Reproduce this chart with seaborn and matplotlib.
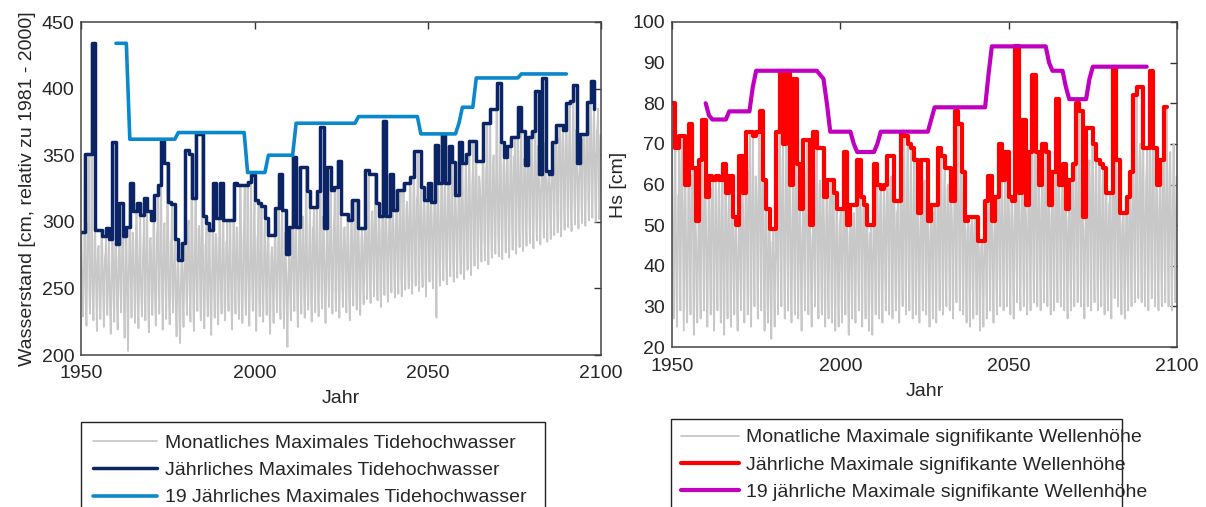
import numpy as np
import pandas as pd
import matplotlib
matplotlib.use("Agg")
import matplotlib.pyplot as plt
import seaborn as sns

# ---- data ----
# left panel: tide high water [cm], yearly maxima 1950-2098
tide_years = list(range(1950, 2099))
tide_yearly = [
    292, 351, 351, 434, 294, 294, 289, 295, 287, 360,
    283, 314, 289, 296, 329, 308, 314, 305, 318, 308,
    301, 320, 328, 361, 344, 315, 313, 287, 271, 284,
    354, 351, 318, 366, 366, 304, 299, 294, 329, 303,
    329, 301, 301, 301, 329, 328, 328, 328, 330, 335,
    316, 314, 312, 303, 290, 290, 310, 336, 309, 276,
    296, 349, 296, 341, 341, 323, 311, 311, 323, 371,
    295, 341, 324, 326, 346, 306, 306, 301, 316, 316,
    295, 295, 339, 336, 336, 314, 304, 376, 304, 336,
    309, 324, 324, 329, 329, 334, 353, 353, 326, 316,
    329, 315, 358, 329, 365, 329, 357, 345, 320, 360,
    344, 351, 361, 361, 346, 346, 374, 374, 385, 385,
    404, 360, 349, 357, 364, 364, 386, 368, 343, 364,
    368, 398, 336, 408, 338, 336, 360, 373, 373, 369,
    389, 391, 403, 344, 366, 366, 390, 406, 385,
]
# 19-year maxima 1960-2090
tide_19_years = list(range(1960, 2091))
tide_19 = (
    [434] * 4 + [362] * 14 + [367] * 20 + [337] * 6 + [350] * 8
    + [374] * 18 + [379] * 18 + [366] * 11 + [374] + [386] * 4
    + [408] * 13 + [411] * 14
)
# monthly maxima, one row per year 1950-2099 (Jan Mar May Jul Sep Nov)
tide_monthly_txt = """
292 268 241 229 255 281
351 276 236 222 262 298
289 351 248 231 259 274
434 262 239 226 251 287
294 271 244 218 263 279
282 259 234 227 248 294
289 266 247 221 257 273
277 295 238 230 252 268
287 254 229 216 246 271
360 273 243 225 261 284
283 262 235 219 249 276
314 270 246 232 258 288
279 289 231 213 244 267
296 258 227 203 253 281
329 277 249 228 262 292
286 265 240 224 251 308
314 272 236 220 257 283
305 261 242 229 248 279
291 318 251 226 263 275
308 269 233 217 255 286
288 274 245 230 250 301
320 263 238 222 259 290
296 328 247 231 266 277
361 278 241 219 254 293
299 271 250 227 262 344
315 268 237 223 249 285
287 313 244 232 257 270
287 259 230 214 246 276
271 252 226 209 241 262
284 264 239 221 250 273
354 279 247 230 261 296
301 268 242 225 256 351
318 275 236 218 252 287
366 270 249 233 264 295
297 282 240 226 258 366
304 266 235 220 247 283
284 299 243 229 255 272
294 260 231 215 249 278
329 277 246 228 263 291
288 271 238 223 254 303
329 268 244 231 260 289
301 273 239 226 256 284
286 301 247 233 262 277
301 264 236 219 251 290
329 279 250 231 266 296
294 270 243 227 258 328
328 275 238 224 253 288
302 328 246 230 264 283
330 269 241 222 257 293
335 281 249 233 262 298
316 272 236 218 255 287
292 314 244 229 260 279
312 267 239 225 253 290
303 276 248 230 264 285
290 263 233 216 249 274
281 271 241 224 256 290
310 268 245 232 259 288
336 279 240 227 263 297
309 273 247 220 257 292
276 260 229 206 244 265
296 274 243 226 258 281
349 282 250 233 266 302
296 270 237 221 255 286
341 285 248 231 263 299
304 276 241 228 259 341
323 271 246 234 265 292
311 280 239 225 256 295
297 311 250 232 268 288
323 277 243 229 261 300
371 283 249 235 266 304
295 272 240 224 257 286
341 286 252 236 269 301
324 279 245 231 262 297
303 326 250 233 267 294
346 284 243 228 264 306
306 277 251 236 270 293
296 281 246 232 263 306
301 274 240 226 259 290
316 288 253 237 271 299
298 316 247 234 265 292
295 279 244 230 260 287
295 284 250 238 266 290
339 291 257 242 272 305
336 286 252 239 268 301
308 295 259 244 274 336
314 288 254 241 270 302
304 292 249 236 267 297
376 297 260 245 276 310
304 290 255 240 271 296
336 299 262 247 278 312
309 293 257 243 273 301
324 298 263 246 279 307
310 324 258 244 275 303
329 296 261 249 281 310
315 303 266 250 284 329
334 300 259 246 280 313
353 306 268 252 286 317
320 353 263 248 282 311
326 301 267 251 287 314
316 305 260 244 281 309
329 310 270 255 289 318
315 302 264 250 283 307
358 309 271 228 290 321
329 304 266 252 285 315
365 313 273 256 292 324
329 307 268 253 288 318
357 315 275 259 294 326
345 310 270 255 291 320
320 306 274 258 289 317
360 318 278 261 297 329
344 312 272 257 293 323
351 320 280 264 299 332
361 316 276 260 296 328
338 361 283 267 302 331
346 322 281 265 300 334
330 319 285 270 304 346
374 326 287 271 306 339
345 374 284 268 303 336
385 330 290 273 309 342
350 328 288 276 307 385
404 333 292 274 311 345
360 329 289 272 308 341
349 335 294 277 313 346
357 331 291 273 310 343
364 338 296 279 315 349
340 364 293 276 312 345
386 341 298 281 317 352
368 336 295 278 314 347
343 339 299 282 318 351
364 344 301 284 320 355
368 340 297 280 316 350
398 346 303 286 322 357
336 329 300 283 319 333
408 348 305 288 324 359
338 331 302 285 321 334
336 333 304 287 323 330
360 350 307 290 326 356
373 352 309 292 328 362
358 373 306 289 325 360
369 354 311 294 330 363
389 356 313 296 332 366
391 351 310 293 329 364
403 358 315 298 334 369
344 340 312 295 331 338
366 355 316 299 335 362
350 366 314 297 333 358
390 360 318 301 337 370
406 362 320 303 339 372
385 357 317 300 336 368
372 385 319 302 338 365
"""

# right panel: significant wave height [cm], yearly maxima 1950-2097
wave_years = list(range(1950, 2098))
wave_yearly = [
    80, 69, 72, 72, 60, 75, 64, 51, 66, 76,
    57, 62, 61, 62, 61, 65, 58, 62, 52, 50,
    67, 58, 73, 73, 72, 73, 78, 61, 54, 49,
    49, 73, 88, 70, 88, 60, 86, 65, 54, 71,
    71, 50, 73, 69, 69, 57, 61, 61, 58, 54,
    54, 68, 50, 55, 55, 66, 57, 55, 50, 50,
    65, 60, 59, 60, 67, 67, 56, 56, 73, 72,
    70, 69, 66, 53, 66, 66, 51, 55, 55, 69,
    67, 64, 64, 56, 78, 75, 63, 51, 52, 52,
    52, 46, 46, 56, 62, 51, 57, 70, 61, 68,
    57, 56, 94, 58, 76, 55, 68, 87, 68, 60,
    70, 68, 55, 63, 81, 60, 65, 54, 61, 65,
    80, 78, 52, 74, 74, 70, 66, 65, 64, 58,
    58, 89, 66, 53, 53, 57, 63, 82, 84, 84,
    69, 69, 88, 69, 60, 66, 79, 79,
]
# 19-year maxima 1960-2091
wave_19_years = list(range(1960, 2092))
wave_19 = (
    [80, 77] + [76] * 5 + [78] * 7 + [84] + [88] * 19 + [87, 86, 80]
    + [73] * 7 + [70] + [68] * 6 + [70] + [73] * 15 + [76] + [79] * 16
    + [87] + [94] * 17 + [90] + [88] * 4 + [84] + [81] * 6 + [86] + [89] * 17
)
wave_monthly_txt = """
80 52 36 27 44 61
69 48 33 25 41 57
58 72 38 29 46 63
72 55 35 24 43 60
60 47 31 26 39 56
75 53 37 28 45 62
57 64 34 23 42 55
51 46 30 26 38 49
66 50 35 27 44 58
76 54 39 29 47 64
57 48 32 25 40 53
62 51 36 28 43 59
55 61 33 24 41 52
62 49 37 29 45 58
61 53 34 26 42 56
65 47 31 23 39 60
58 52 36 27 44 54
62 50 33 25 41 57
52 48 35 28 43 50
50 45 30 24 38 47
67 54 37 29 46 61
58 51 34 26 42 55
73 56 38 28 47 63
64 73 35 25 44 59
72 53 39 30 48 62
60 55 36 27 45 73
78 57 40 29 49 65
61 50 33 24 41 56
54 47 31 26 39 50
49 44 29 22 37 46
46 49 32 25 40 44
73 56 37 28 46 60
88 58 39 30 48 66
70 54 36 27 45 62
88 59 40 29 49 64
60 52 34 26 42 55
86 57 38 28 47 63
65 53 35 27 44 58
54 48 32 24 40 51
71 55 37 29 46 61
64 71 36 28 45 59
50 46 31 25 39 48
73 54 38 30 47 62
69 56 35 27 44 60
61 52 36 28 43 69
57 50 33 25 41 54
61 53 34 27 42 57
55 61 35 26 43 58
58 49 32 24 40 54
54 47 31 25 39 50
52 54 33 26 41 49
68 55 36 28 45 60
50 47 30 23 38 46
55 49 34 27 42 52
53 48 33 26 41 55
66 54 37 29 46 59
57 51 34 25 43 55
55 50 35 27 42 53
50 46 32 24 39 48
48 50 31 23 40 45
65 53 36 28 44 58
60 52 35 27 43 56
59 50 34 26 42 55
60 54 37 29 45 57
67 55 38 28 46 61
62 58 36 27 44 67
56 52 35 29 43 53
54 56 33 26 41 52
73 57 38 30 47 62
72 56 37 28 46 63
70 55 39 29 45 61
69 54 36 27 44 60
66 53 35 28 43 58
53 50 34 26 42 51
66 55 37 29 46 59
61 54 36 28 44 66
51 48 33 25 40 49
55 50 35 27 43 53
53 55 34 26 42 52
69 56 38 29 47 62
67 55 37 28 45 60
64 54 36 30 44 59
60 52 39 29 46 64
56 51 35 27 43 54
78 58 40 31 48 66
75 57 39 29 47 63
63 55 37 28 45 60
51 48 34 26 42 50
52 49 33 25 41 50
50 52 35 27 43 49
52 48 34 28 40 51
46 44 31 24 38 45
45 46 32 25 39 44
56 50 35 27 43 54
62 53 37 29 45 58
51 48 34 26 42 50
57 51 36 28 44 55
70 55 38 30 47 61
61 53 37 29 45 58
68 54 39 30 46 62
57 52 36 28 44 55
56 51 35 27 43 53
94 58 40 31 49 67
58 53 37 29 45 56
76 57 39 30 48 64
55 52 36 28 44 53
68 55 38 29 46 61
87 58 40 31 49 66
68 56 38 30 47 62
60 54 37 29 45 57
70 57 39 31 48 63
68 55 38 30 46 61
55 52 36 28 44 53
63 54 37 29 45 59
81 58 40 31 49 65
60 54 38 30 46 57
65 56 39 29 47 60
54 51 35 27 43 52
61 53 37 29 45 58
65 55 38 30 46 60
80 58 41 31 49 66
78 57 40 30 48 64
52 49 35 27 42 50
74 57 39 30 47 63
66 58 38 29 46 74
70 56 39 31 47 62
66 55 37 29 45 60
65 54 38 30 46 59
64 53 37 28 45 58
58 52 36 29 44 55
56 58 35 27 43 54
89 59 41 32 49 67
66 55 38 30 46 60
53 50 36 28 43 51
52 53 35 27 42 50
57 52 37 29 44 55
63 54 38 30 46 59
82 58 41 31 49 65
84 59 40 32 48 66
70 60 39 31 47 84
69 56 38 30 46 61
64 69 37 29 45 60
88 59 41 32 49 67
69 56 39 30 47 62
60 54 37 29 45 57
66 55 38 30 46 60
79 58 40 31 48 64
79 57 39 30 47 63
68 55 38 29 46 60
70 56 39 31 47 62
"""
month_slots = [0, 2, 4, 6, 8, 10]  # Jan, Mar, May, Jul, Sep, Nov

tide_labels = ["Monatliches Maximales Tidehochwasser",
               "Jährliches Maximales Tidehochwasser",
               "19 Jährliches Maximales Tidehochwasser"]
wave_labels = ["Monatliche Maximale signifikante Wellenhöhe",
               "Jährliche Maximale signifikante Wellenhöhe",
               "19 jährliche Maximale signifikante Wellenhöhe"]


def monthly_frame(txt):
    vals = np.array(txt.split(), dtype=float).reshape(-1, len(month_slots))
    yrs = 1950 + np.arange(vals.shape[0])
    t = (yrs[:, None] + np.array(month_slots)[None, :] / 12.0).ravel()
    return pd.DataFrame({"t": t, "v": vals.ravel()})


tide_m = monthly_frame(tide_monthly_txt)
wave_m = monthly_frame(wave_monthly_txt)

sns.set_style("white")
plt.rcParams["font.family"] = ["Liberation Sans", "DejaVu Sans"]
plt.rcParams["text.color"] = "#262626"
plt.rcParams["axes.labelcolor"] = "#262626"

fig = plt.figure(figsize=(12.06, 5.07), dpi=100)
W, H = 1206.0, 507.0
ax1 = fig.add_axes([81.3 / W, 1 - 355 / H, (601 - 81.3) / W, (355 - 22) / H])
ax2 = fig.add_axes([672 / W, 1 - 347 / H, (1177 - 672) / W, (347 - 22) / H])

FS = 14


def draw(ax, mdf, years, yearly, y19yrs, y19, colors, widths, labels, xpad):
    sns.lineplot(x=mdf["t"], y=mdf["v"], ax=ax, color="#c8c8c8", lw=1.3,
                 estimator=None, sort=False, label=labels[0])
    sns.lineplot(x=years, y=yearly, ax=ax, color=colors[0], lw=widths[0],
                 drawstyle="steps-post", estimator=None, sort=False,
                 label=labels[1])
    sns.lineplot(x=y19yrs, y=y19, ax=ax, color=colors[1], lw=widths[1],
                 estimator=None, sort=False, label=labels[2])
    h, l = ax.get_legend_handles_labels()
    ax.get_legend().remove()
    ax.set_xlim(1950, 2100)
    ax.set_xticks([1950, 2000, 2050, 2100])
    ax.set_xlabel("Jahr", fontsize=FS, labelpad=6)
    ax.tick_params(direction="in", length=5, width=1, labelsize=FS,
                   top=True, right=True, pad=5, colors="#333333",
                   labelcolor="#262626")
    ax.tick_params(axis="x", pad=xpad)
    for s in ax.spines.values():
        s.set_color("#444444")
        s.set_linewidth(1.1)
    return h, l


h1, l1 = draw(ax1, tide_m, tide_years, tide_yearly, tide_19_years, tide_19,
              ["#0b2466", "#0a88cc"], [2.5, 2.6], tide_labels, 7)
ax1.set_ylim(200, 450)
ax1.set_yticks(range(200, 451, 50))
ax1.set_ylabel("Wasserstand [cm, relativ zu 1981 - 2000]", fontsize=FS)

h2, l2 = draw(ax2, wave_m, wave_years, wave_yearly, wave_19_years, wave_19,
              ["#ff0000", "#bf00bf"], [3.0, 3.0], wave_labels, 8)
ax2.set_ylim(20, 100)
ax2.set_yticks(range(20, 101, 10))
ax2.set_ylabel("Hs [cm]", fontsize=FS)

leg_kw = dict(loc="upper left", mode="expand", fontsize=FS, frameon=True,
              fancybox=False, framealpha=1, edgecolor="#222222",
              borderaxespad=0)
lg1 = fig.legend(h1, l1, bbox_to_anchor=(81 / W, 1 - 422 / H, 464 / W, 0),
                 handlelength=3.3, handletextpad=0.41, borderpad=0.62,
                 labelspacing=0.5, **leg_kw)
lg2 = fig.legend(h2, l2, bbox_to_anchor=(671 / W, 1 - 419 / H, 451 / W, 0),
                 handlelength=3.0, handletextpad=0.36, borderpad=0.5,
                 labelspacing=0.5, **leg_kw)
for lg in (lg1, lg2):
    lg.get_frame().set_linewidth(1.0)

fig.savefig("out.png", dpi=100)
